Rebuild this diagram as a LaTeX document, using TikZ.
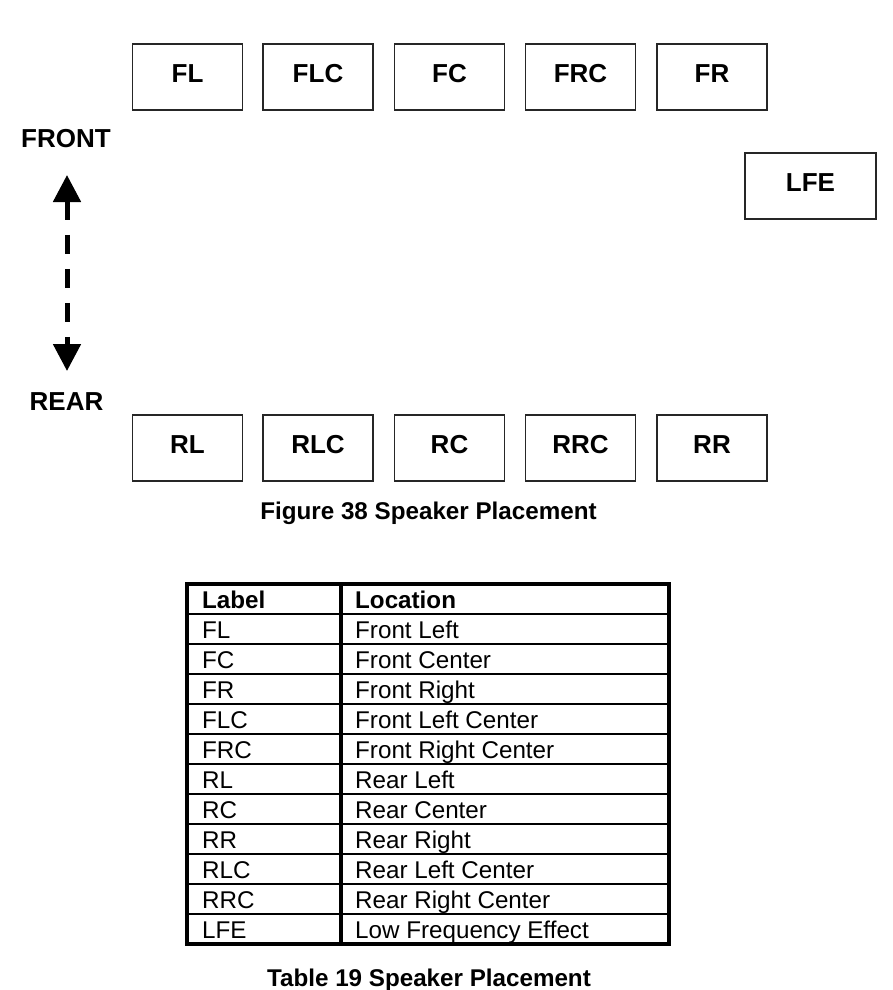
\documentclass[tikz,border=0pt]{standalone}
\usepackage{fontspec}
\setmainfont{Liberation Sans}
\usetikzlibrary{arrows.meta}
\begin{document}
\begin{tikzpicture}[x=1pt,y=-1pt,
  spk/.style={draw=black!85, line width=1.7pt, minimum width=110pt, minimum height=66pt,
    inner sep=0pt, font=\fontsize{26}{30}\selectfont\bfseries, text depth=7pt},
  dirlabel/.style={inner sep=0pt, anchor=base, font=\fontsize{26}{30}\selectfont\bfseries},
  caption/.style={inner sep=0pt, anchor=base, font=\fontsize{24.2}{28}\selectfont\bfseries},
  cell/.style={inner sep=0pt, anchor=base west, font=\fontsize{24.2}{28}\selectfont},
  headcell/.style={cell, font=\fontsize{24.2}{28}\selectfont\bfseries},
  thick border/.style={line width=4pt, line cap=rect},
  colline/.style={line width=3.5pt},
  rowline/.style={line width=1.6pt},
  dirarrow/.style={line width=5pt, dash pattern=on 19pt off 15pt,
    {Triangle[width=27pt,length=27pt]}-{Triangle[width=27pt,length=27pt]}}
]
\useasboundingbox (0,0) rectangle (892,990);

% front row
\node[spk] (FL)  at (187.5,77) {FL};
\node[spk] (FLC) at (318,77)   {FLC};
\node[spk] (FC)  at (449.5,77) {FC};
\node[spk] (FRC) at (580.5,77) {FRC};
\node[spk] (FR)  at (712,77)   {FR};
\node[spk, minimum width=131pt] (LFE) at (810.5,186) {LFE};
% rear row
\node[spk] (RL)  at (187.5,448) {RL};
\node[spk] (RLC) at (318,448)   {RLC};
\node[spk] (RC)  at (449.5,448) {RC};
\node[spk] (RRC) at (580.5,448) {RRC};
\node[spk] (RR)  at (712,448)   {RR};

% direction
\node[dirlabel] (front) at (66,147) {FRONT};
\node[dirlabel] (rear)  at (66.5,410) {REAR};
\coordinate (atop) at (67,175);
\coordinate (abot) at (67,371);
\draw[dirarrow] (atop) -- (abot);

\node[caption] (fig) at (428.5,519) {Figure 38 Speaker Placement};

% table
\draw[rowline] (187,614) -- (669,614);
\foreach \i in {1,...,10} {
  \draw[rowline] (187,{614+30*\i}) -- (669,{614+30*\i});
}
\draw[colline] (341,584) -- (341,944);
\draw[thick border] (187,584) rectangle (669,944);

\node[headcell] (h1) at (202,608) {Label};
\node[headcell] (h2) at (355,608) {Location};
\foreach \lab/\loc [count=\i from 0] in {FL/Front Left, FC/Front Center, FR/Front Right,
    FLC/Front Left Center, FRC/Front Right Center, RL/Rear Left, RC/Rear Center,
    RR/Rear Right, RLC/Rear Left Center, RRC/Rear Right Center, LFE/Low Frequency Effect} {
  \node[cell] (lab\i) at (202,{638.5+30*\i}) {\lab};
  \node[cell] (loc\i) at (355,{638.5+30*\i}) {\loc};
}

\node[caption] (tab) at (429,986) {Table 19 Speaker Placement};
\end{tikzpicture}
\end{document}
